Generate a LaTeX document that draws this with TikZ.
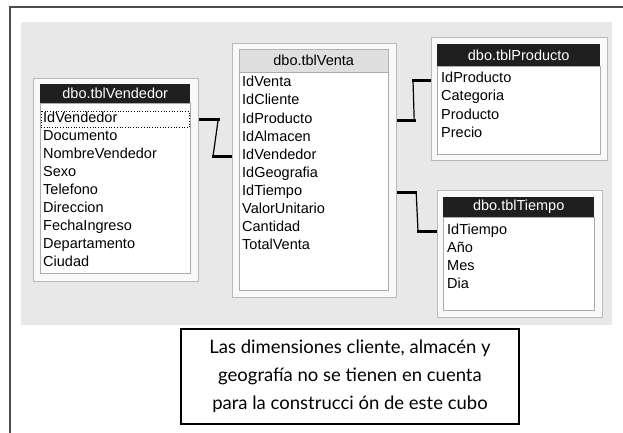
\documentclass[tikz,border=0pt]{standalone}
\usepackage{fontspec}
\setmainfont{Lato}
\newfontfamily\tablafont{Liberation Sans}
\usetikzlibrary{calc}
\begin{document}
\begin{tikzpicture}[x=1pt,y=-1pt,
    panel/.style={draw=gray!55, fill=gray!5, line width=1.2pt, anchor=north west, inner sep=0pt},
    lista/.style={draw=gray!65, fill=white, line width=1.2pt, anchor=north west, inner sep=0pt},
    titulo/.style={fill=black!88, text=white, anchor=north west, inner sep=0pt,
        font=\tablafont\fontsize{14.5}{14.5}\selectfont},
    campo/.style={anchor=base west, inner sep=0pt, font=\tablafont\fontsize{14.5}{14.5}\selectfont},
    enlace/.style={line width=3.5pt},
    guia/.style={line width=1.2pt},
    nota/.style={draw, line width=1.5pt, fill=white, align=center, inner sep=0pt,
        font=\fontsize{18.5}{28}\selectfont}]
    \useasboundingbox (0,0) rectangle (623,433);
    \fill[white] (0,0) rectangle (623,433);
    \fill[gray!18] (21,22) rectangle (612,325);
    \draw[line width=1.5pt, black!70] (10,433) -- (10,7) -- (623,7);
    % tblVendedor
    \node[panel, minimum width=165, minimum height=203] (vdpanel) at (33,78) {};
    \node[titulo, minimum width=150, minimum height=19] (vdtitulo) at (40,84) {dbo.tblVendedor};
    \node[lista, minimum width=150, minimum height=170] (vdlista) at (40,103) {};
    \foreach \c [count=\i] in {IdVendedor,Documento,NombreVendedor,Sexo,Telefono,Direccion,FechaIngreso,Departamento,Ciudad}
        \node[campo] (vd\i) at (43,104+18*\i) {\c};
    \draw[dotted, line width=0.7pt] ($(vdlista.west |- vd1.mid)+(1,-8)$) rectangle ($(vdlista.east |- vd1.mid)+(-2,8)$);
    % tblVenta
    \node[panel, minimum width=164, minimum height=254] (vtpanel) at (232,43) {};
    \node[titulo, fill=gray!25, draw=gray!60, text=black, minimum width=149, minimum height=23] (vttitulo) at (239,49) {dbo.tblVenta};
    \node[lista, minimum width=149, minimum height=218] (vtlista) at (239,72) {};
    \foreach \c [count=\i] in {IdVenta,IdCliente,IdProducto,IdAlmacen,IdVendedor,IdGeografia,IdTiempo,ValorUnitario,Cantidad,TotalVenta}
        \node[campo] (vt\i) at (242,69+18*\i) {\c};
    % tblProducto
    \node[panel, minimum width=176, minimum height=123] (pdpanel) at (431,37) {};
    \node[titulo, minimum width=163, minimum height=22] (pdtitulo) at (437,44) {dbo.tblProducto};
    \node[lista, minimum width=163, minimum height=88] (pdlista) at (437,66) {};
    \foreach \c [count=\i] in {IdProducto,Categoria,Producto,Precio}
        \node[campo] (pd\i) at (441,65+18*\i) {\c};
    % tblTiempo
    \node[panel, minimum width=165, minimum height=127] (tppanel) at (437,190) {};
    \node[titulo, minimum width=151, minimum height=20] (tptitulo) at (443,197) {dbo.tblTiempo};
    \node[lista, minimum width=151, minimum height=93] (tplista) at (443,217) {};
    \foreach \c [count=\i] in {IdTiempo,Año,Mes,Dia}
        \node[campo] (tp\i) at (447,216+18*\i) {\c};
    % relaciones
    \draw[enlace] (vdpanel.east |- vd1.mid) -- ++(21,0);
    \draw[guia] ($(vdpanel.east |- vd1.mid)+(19,0)$) -- ($(vtpanel.west |- vt5.mid)+(-19,0)$);
    \draw[enlace] ($(vtpanel.west |- vt5.mid)+(-20,0)$) -- (vtpanel.west |- vt5.mid);
    \draw[enlace] (vtpanel.east |- vt3.mid) -- ++(19,0);
    \draw[guia] ($(vtpanel.east |- vt3.mid)+(17,0)$) -- ($(pdpanel.west |- pd1.mid)+(-18,0)$);
    \draw[enlace] ($(pdpanel.west |- pd1.mid)+(-19,0)$) -- (pdpanel.west |- pd1.mid);
    \draw[enlace] (vtpanel.east |- vt7.mid) -- ++(20,0);
    \draw[guia] ($(vtpanel.east |- vt7.mid)+(19,0)$) -- ($(tppanel.west |- tp1.mid)+(-19,0)$);
    \draw[enlace] ($(tppanel.west |- tp1.mid)+(-20,0)$) -- (tppanel.west |- tp1.mid);
    % nota
    \node[nota, minimum width=338, minimum height=95] (nota) at (350,376.5)
        {Las dimensiones cliente, almacén y\\geografía no se tienen en cuenta\\para la construcci ón de este cubo};
\end{tikzpicture}
\end{document}
